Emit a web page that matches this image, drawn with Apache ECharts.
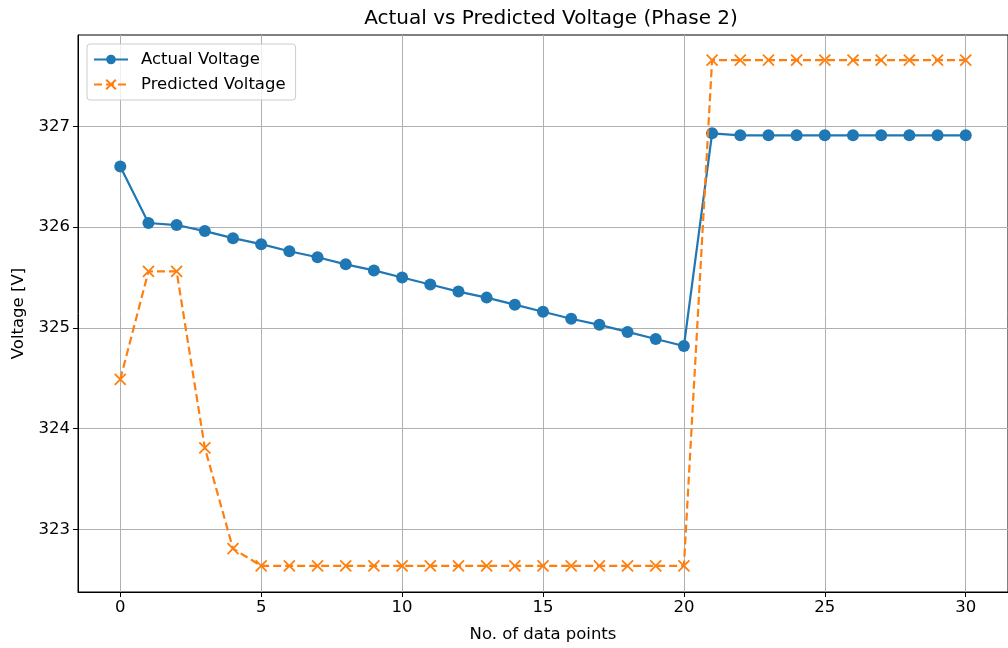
<!DOCTYPE html>
<html>
<head>
<meta charset="utf-8">
<script src="https://cdn.jsdelivr.net/npm/echarts@6/dist/echarts.min.js"></script>
<style>
  html, body { margin: 0; padding: 0; background: #fff; }
  #main { width: 1008px; height: 648px; }
</style>
</head>
<body>
<div id="main"></div>
<script>
// values
var xPoints = [0, 1, 2, 3, 4, 5, 6, 7, 8, 9, 10, 11, 12, 13, 14, 15, 16, 17, 18, 19, 20,
  21, 22, 23, 24, 25, 26, 27, 28, 29, 30];
var actualVoltage = [326.60, 326.04, 326.02, 325.96, 325.89, 325.83, 325.76, 325.70, 325.63, 325.57,
  325.50, 325.43, 325.36, 325.30, 325.23, 325.16, 325.09, 325.03, 324.96, 324.89, 324.82,
  326.93, 326.91, 326.91, 326.91, 326.91, 326.91, 326.91, 326.91, 326.91, 326.91];
var predictedVoltage = [324.49, 325.56, 325.56, 323.81, 322.81, 322.64, 322.64, 322.64, 322.64, 322.64,
  322.64, 322.64, 322.64, 322.64, 322.64, 322.64, 322.64, 322.64, 322.64, 322.64, 322.64,
  327.655, 327.655, 327.655, 327.655, 327.655, 327.655, 327.655, 327.655, 327.655, 327.655];
var xTicks = [0, 5, 10, 15, 20, 25, 30];
var yTicks = [323, 324, 325, 326, 327];

function pairs(ys) {
  return xPoints.map(function (x, i) { return [x, ys[i]]; });
}

var font = 'DejaVu Sans';
var myChart = echarts.init(document.getElementById('main'));

myChart.setOption({
  animation: false,
  textStyle: { fontFamily: font },
  title: {
    text: 'Actual vs Predicted Voltage (Phase 2)',
    left: 546,
    top: 4,
    textAlign: 'center',
    textStyle: { fontFamily: font, fontSize: 20, fontWeight: 'normal', color: '#000' }
  },
  legend: {
    orient: 'vertical',
    left: 87,
    top: 44,
    padding: [7, 10, 7, 6],
    itemGap: 8,
    itemWidth: 34,
    itemHeight: 12,
    borderColor: '#cccccc',
    borderWidth: 1,
    borderRadius: 3,
    backgroundColor: 'rgba(255,255,255,0.8)',
    textStyle: { fontFamily: font, fontSize: 16.5, color: '#000', padding: [0, 0, 0, 8] },
    data: ['Actual Voltage', 'Predicted Voltage']
  },
  grid: {
    left: 78,
    top: 35,
    right: -8,
    bottom: 54,
    show: true,
    borderColor: '#000',
    borderWidth: 1,
    containLabel: false
  },
  xAxis: {
    type: 'value',
    min: -1.5,
    max: 31.5,
    name: 'No. of data points',
    nameLocation: 'middle',
    nameGap: 34,
    nameTextStyle: { fontFamily: font, fontSize: 16.5, color: '#000' },
    axisLine: { show: true, onZero: false, lineStyle: { color: '#000', width: 1 } },
    axisTick: { show: true, length: 5, customValues: xTicks, lineStyle: { color: '#000' } },
    axisLabel: { customValues: xTicks, fontFamily: font, fontSize: 16.5, color: '#000', margin: 7 },
    splitLine: { show: true, lineStyle: { color: '#b0b0b0', width: 1 } }
  },
  yAxis: {
    type: 'value',
    min: 322.38,
    max: 327.905,
    name: 'Voltage [V]',
    nameLocation: 'middle',
    nameRotate: 90,
    nameGap: 51,
    nameTextStyle: { fontFamily: font, fontSize: 16.5, color: '#000' },
    axisLine: { show: true, onZero: false, lineStyle: { color: '#000', width: 1 } },
    axisTick: { show: true, length: 5, customValues: yTicks, lineStyle: { color: '#000' } },
    axisLabel: { customValues: yTicks, fontFamily: font, fontSize: 16.5, color: '#000', margin: 8 },
    splitLine: { show: true, lineStyle: { color: '#b0b0b0', width: 1 } }
  },
  series: [
    {
      name: 'Actual Voltage',
      type: 'line',
      data: pairs(actualVoltage),
      color: '#1f77b4',
      symbol: 'circle',
      symbolSize: 12,
      showAllSymbol: true,
      lineStyle: { color: '#1f77b4', width: 2.2 },
      itemStyle: { color: '#1f77b4' },
      z: 3
    },
    {
      name: 'Predicted Voltage',
      type: 'line',
      data: pairs(predictedVoltage),
      color: '#ff7f0e',
      symbol: 'path://M0,0L10,10M10,0L0,10',
      symbolSize: 11,
      showAllSymbol: true,
      lineStyle: { color: '#ff7f0e', width: 2.2, type: [8, 4] },
      itemStyle: { color: '#ff7f0e', borderColor: '#ff7f0e', borderWidth: 1.8 },
      z: 4
    }
  ]
});
</script>
</body>
</html>
